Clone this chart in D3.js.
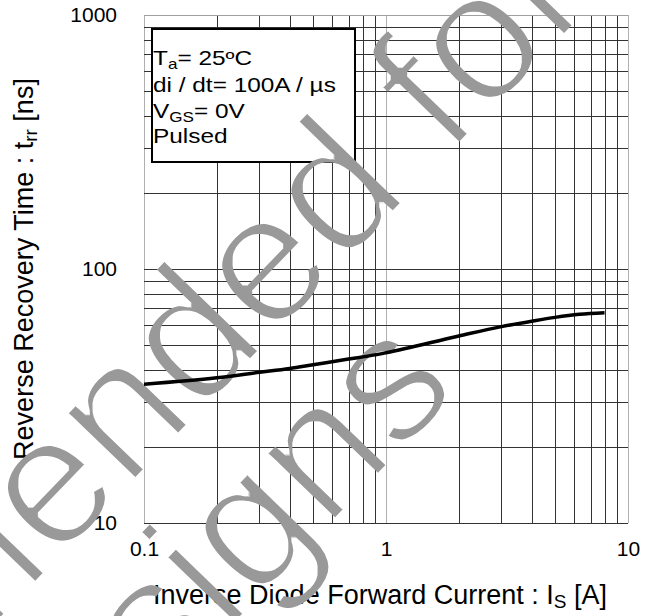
<!DOCTYPE html>
<html>
<head>
<meta charset="utf-8">
<script src="https://cdn.jsdelivr.net/npm/d3@7"></script>
<style>
  html, body { margin: 0; padding: 0; background: #fff; }
  svg { display: block; }
  text { font-family: Arial, "Liberation Sans", Helvetica, sans-serif; }
</style>
</head>
<body>
<svg id="chart" width="656" height="616"></svg>
<script>
// ---- data ----
const current = [0.1, 0.2, 0.3, 0.4, 0.5, 0.7, 0.9, 1, 2, 3, 4, 5, 6.3, 8];
const trr     = [35.2, 37.3, 39.2, 40.6, 42.0, 44.2, 45.9, 46.8, 54.5, 59.3, 62.3, 64.5, 66.3, 67.3];
const xTickValues = [0.1, 1, 10];
const xTickLabels = ["0.1", "1", "10"];
const yTickValues = [10, 100, 1000];
const yTickLabels = ["10", "100", "1000"];
const legendLines = [
  [["T", false], ["a", true], ["= 25ºC", false]],
  [["di / dt= 100A / µs", false]],
  [["V", false], ["GS", true], ["= 0V", false]],
  [["Pulsed", false]]
];
const watermarkLines = ["Not Recommended for", "New Designs"];

// ---- layout ----
const L = 144, R = 628, T = 15, B = 523;
const svg = d3.select("#chart");
const x = d3.scaleLog().domain([0.1, 10]).range([L, R]);
const y = d3.scaleLog().domain([10, 1000]).range([B, T]);
const px = v => Math.round(v) + 0.5;

// ---- grid ----
const grid = svg.append("g");
const xMajors = new Set([0.1, 1, 10]);
grid.selectAll("line.vx").data(x.ticks()).join("line")
  .attr("x1", d => px(x(d))).attr("x2", d => px(x(d)))
  .attr("y1", T).attr("y2", B)
  .attr("stroke", d => xMajors.has(+d.toPrecision(3)) ? "#b0b0b0" : "#333")
  .attr("stroke-width", 1);
grid.selectAll("line.hy").data(y.ticks()).join("line")
  .attr("y1", d => px(y(d))).attr("y2", d => px(y(d)))
  .attr("x1", L).attr("x2", R)
  .attr("stroke", d => (+d.toPrecision(3) === 1000) ? "#a0a0a0" : "#333")
  .attr("stroke-width", 1);

// ---- axes labels via d3 axes ----
const yAxis = d3.axisLeft(y).tickValues(yTickValues)
  .tickFormat((d, i) => yTickLabels[i]).tickSize(0).tickPadding(27);
const gy = svg.append("g").attr("transform", `translate(${L},0)`).call(yAxis);
gy.select(".domain").remove();
gy.selectAll("text").attr("font-size", 21).attr("font-family", "Arial, 'Liberation Sans', sans-serif").attr("fill", "#000");

const xAxis = d3.axisBottom(x).tickValues(xTickValues)
  .tickFormat((d, i) => xTickLabels[i]).tickSize(0).tickPadding(18);
const gx = svg.append("g").attr("transform", `translate(0,${B})`).call(xAxis);
gx.select(".domain").remove();
gx.selectAll("text").attr("font-size", 21).attr("font-family", "Arial, 'Liberation Sans', sans-serif").attr("fill", "#000");

// ---- axis titles ----
const xt = svg.append("text").attr("x", 380).attr("y", 604)
  .attr("text-anchor", "middle").attr("font-size", 27).attr("fill", "#000");
xt.append("tspan").text("Inverse Diode Forward Current : I");
xt.append("tspan").attr("font-size", 19).attr("dy", 4).text("S");
xt.append("tspan").attr("dy", -4).text(" [A]");

const yt = svg.append("text").attr("transform", "translate(33,269) rotate(-90)")
  .attr("text-anchor", "middle").attr("font-size", 27).attr("fill", "#000");
yt.append("tspan").text("Reverse Recovery Time : t");
yt.append("tspan").attr("font-size", 19).attr("dy", 4).text("rr");
yt.append("tspan").attr("dy", -4).text(" [ns]");

// ---- legend box ----
svg.append("rect").attr("x", 152).attr("y", 29).attr("width", 203).attr("height", 133)
  .attr("fill", "#fff").attr("stroke", "#000").attr("stroke-width", 2);
const baselines = [65, 91.5, 117.5, 143];
legendLines.forEach((parts, i) => {
  const t = svg.append("text")
    .attr("transform", `translate(153,${baselines[i]}) scale(1.22,1)`)
    .attr("font-size", 20).attr("fill", "#000");
  parts.forEach(([s, sub], j) => {
    const ts = t.append("tspan").text(s);
    if (sub) ts.attr("font-size", 14).attr("dy", 4);
    else if (j > 0 && parts[j - 1][1]) ts.attr("dy", -4);
  });
});

// ---- watermark (thinned gray text) ----
const defs = svg.append("defs");
const filt = defs.append("filter").attr("id", "thin")
  .attr("filterUnits", "userSpaceOnUse")
  .attr("x", -200).attr("y", -200).attr("width", 1100).attr("height", 1100);
filt.append("feMorphology").attr("operator", "erode").attr("radius", 2);
const wm = svg.append("g").attr("filter", "url(#thin)");
const wmEnds = [[598, 2], [462, 390]];
watermarkLines.forEach((s, i) => {
  wm.append("text")
    .attr("transform", `translate(${wmEnds[i][0]},${wmEnds[i][1]}) rotate(-46)`)
    .attr("text-anchor", "end").attr("font-size", 185)
    .attr("font-family", "'Liberation Sans', Arial, sans-serif")
    .attr("fill", "#999").text(s);
});

// ---- curve ----
const pts = current.map((c, i) => [c, trr[i]]);
const line = d3.line().x(d => x(d[0])).y(d => y(d[1])).curve(d3.curveMonotoneX);
svg.append("path").datum(pts).attr("d", line)
  .attr("fill", "none").attr("stroke", "#000").attr("stroke-width", 3.5)
  .attr("stroke-linecap", "butt");
</script>
</body>
</html>
